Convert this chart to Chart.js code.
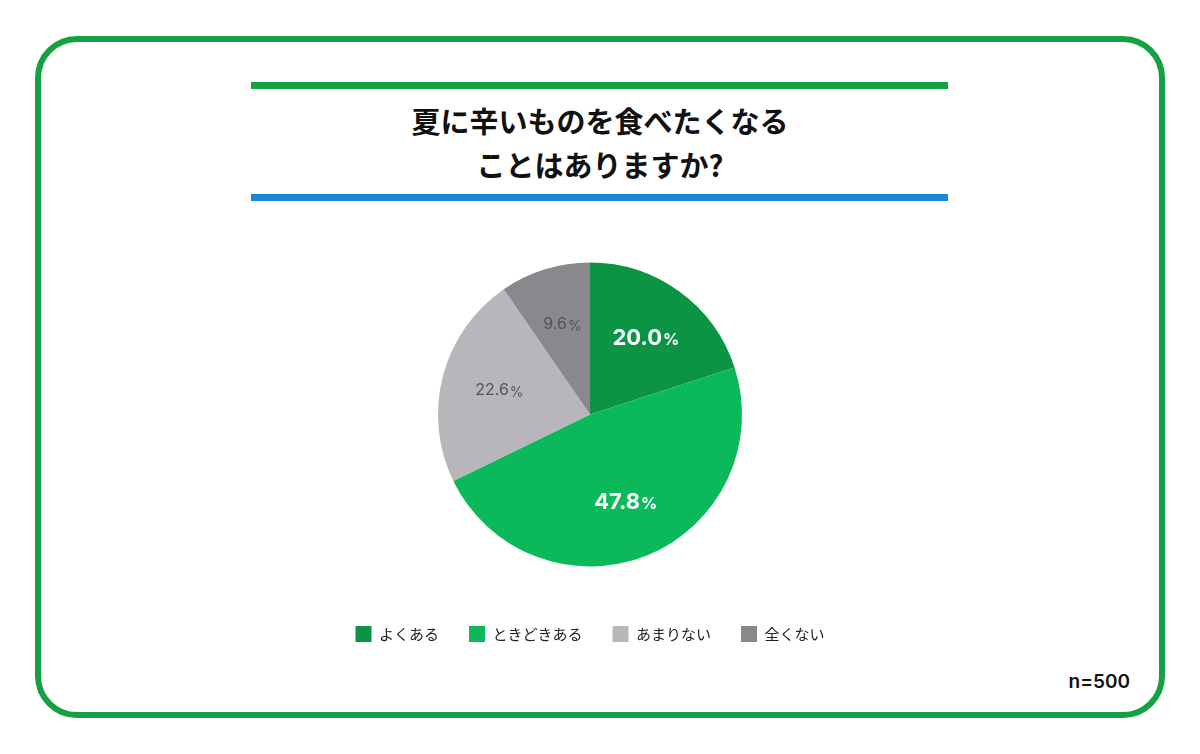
<!DOCTYPE html>
<html><head><meta charset="utf-8">
<script src="https://cdn.jsdelivr.net/npm/chart.js@4"></script>
<style>
body{margin:0;width:1200px;height:754px;background:#fff;font-family:"Noto Sans CJK JP",sans-serif;position:relative;overflow:hidden}
#frame{position:absolute;left:35px;top:36px;width:1118px;height:670px;border:6px solid #14a043;border-radius:42px}
.bar{position:absolute;left:251px;width:697px;height:7px}
#title{position:absolute;left:0;width:1200px;top:98px;text-align:center;font-weight:bold;font-size:29px;line-height:44px;color:#111}
#n{position:absolute;right:70px;top:670px;font-family:Inter,sans-serif;font-size:19px;font-weight:600;color:#111}
#wrap{position:absolute;left:0;top:233px;width:1200px;height:419px}
</style></head><body>
<div id="frame"></div>
<div class="bar" style="top:82px;background:#14a043"></div>
<div class="bar" style="top:194px;background:#1a86d6"></div>
<div id="title">夏に辛いものを食べたくなる<br>ことはありますか?</div>
<div id="n">n=500</div>
<div id="wrap"><canvas id="c"></canvas></div>
<script>
const categories=["よくある","ときどきある","あまりない","全くない"];
const values=[20.0,47.8,22.6,9.6];
const colors=["#0a9444","#0cb95a","#b9b6bb","#8b888d"];
const labelColors=["#fff","#fff","#555","#555"];
const labelBold=[true,true,false,false];
const labelPlugin={id:"lbl",afterDatasetsDraw(chart){
 const ctx=chart.ctx;const meta=chart.getDatasetMeta(0);
 meta.data.forEach((a,i)=>{
  const mid=(a.startAngle+a.endAngle)/2;const r=a.outerRadius*0.62;
  const x=a.x+Math.cos(mid)*r,y=a.y+Math.sin(mid)*r;
  const big=labelBold[i]?22:16,small=labelBold[i]?16:14;
  const w=labelBold[i]?"bold ":"";
  ctx.save();ctx.fillStyle=labelColors[i];ctx.textBaseline="middle";
  const t=values[i].toFixed(1);
  ctx.font=w+big+"px Inter";const w1=ctx.measureText(t).width;
  ctx.font=w+small+"px Inter";const w2=ctx.measureText("%").width;
  const sx=x-(w1+w2)/2;
  ctx.font=w+big+"px Inter";ctx.textAlign="left";ctx.fillText(t,sx,y);
  ctx.font=w+small+"px Inter";ctx.fillText("%",sx+w1+1,y+2);
  ctx.restore();});
}};
new Chart(document.getElementById("c"),{type:"pie",
 data:{labels:categories,datasets:[{data:values,backgroundColor:colors,borderWidth:0,radius:152}]},
 options:{responsive:true,maintainAspectRatio:false,animation:false,
  layout:{padding:{right:20}},
  plugins:{tooltip:{enabled:false},
   legend:{position:"bottom",labels:{boxWidth:16,boxHeight:16,padding:30,color:"#222",font:{size:15,family:"Noto Sans CJK JP"}}}}},
 plugins:[labelPlugin]});
</script></body></html>
